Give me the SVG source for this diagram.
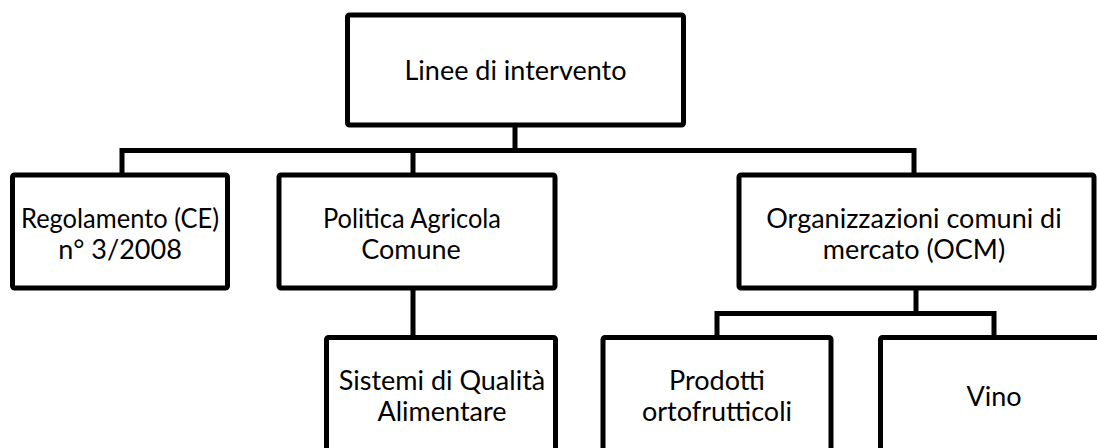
<svg xmlns="http://www.w3.org/2000/svg" width="1097" height="448" viewBox="0 0 1097 448">
<style>
.box{fill:#fff;stroke:#000;stroke-width:5}
.con{fill:none;stroke:#000;stroke-width:5;stroke-linejoin:miter}
text{font-family:Lato,"Open Sans","Liberation Sans",sans-serif;font-size:27px;fill:#000;text-anchor:middle}
</style>
<rect width="1097" height="448" fill="#fff"/>
<g id="connectors">
<path class="con" d="M122 175V150.5H914V175"/>
<path class="con" d="M515 125V150.5"/>
<path class="con" d="M413 175V150.5"/>
<path class="con" d="M413 288V337.5"/>
<path class="con" d="M916 288V313.5"/>
<path class="con" d="M717 337.5V313.5H994V337.5"/>
</g>
<g id="n-linee">
<rect class="box" x="347.5" y="15" width="336" height="110" rx="2"/>
<text x="515.5" y="80">Linee di intervento</text>
</g>
<g id="n-regolamento">
<rect class="box" x="12.5" y="175" width="215" height="113" rx="2"/>
<text x="120" y="228" textLength="198" lengthAdjust="spacingAndGlyphs">Regolamento (CE)</text>
<text x="120" y="259">n° 3/2008</text>
</g>
<g id="n-politica">
<rect class="box" x="279" y="175" width="276" height="113" rx="2"/>
<text x="412" y="228" textLength="178" lengthAdjust="spacingAndGlyphs">Politica Agricola</text>
<text x="411" y="259">Comune</text>
</g>
<g id="n-ocm">
<rect class="box" x="739" y="175" width="355" height="113" rx="2"/>
<text x="914" y="228">Organizzazioni comuni di</text>
<text x="914" y="259">mercato (OCM)</text>
</g>
<g id="n-sistemi">
<rect class="box" x="326.5" y="337.5" width="229" height="113" rx="2"/>
<text x="442" y="390">Sistemi di Qualità</text>
<text x="442" y="421">Alimentare</text>
</g>
<g id="n-prodotti">
<rect class="box" x="603" y="337.5" width="228" height="113" rx="2"/>
<text x="717" y="390">Prodotti</text>
<text x="717" y="421">ortofrutticoli</text>
</g>
<g id="n-vino">
<rect class="box" x="880.5" y="337.5" width="227" height="113" rx="2"/>
<text x="994" y="406">Vino</text>
</g>
</svg>
